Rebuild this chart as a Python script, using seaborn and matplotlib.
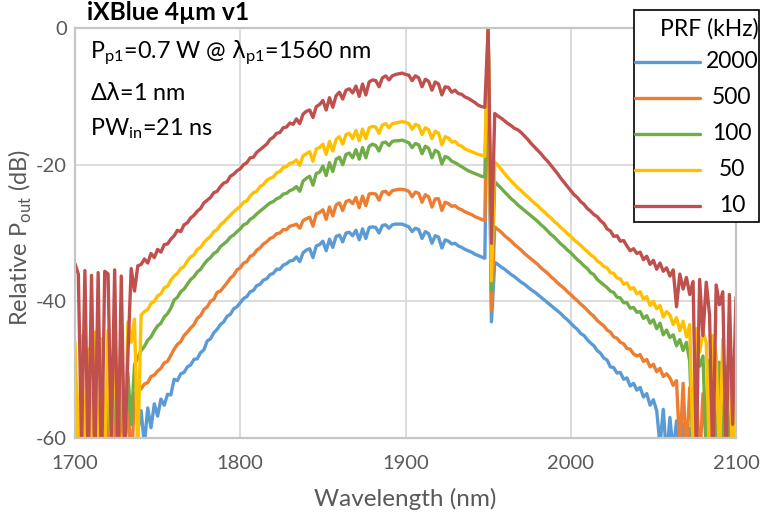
import numpy as np
import pandas as pd
import matplotlib
matplotlib.use("Agg")
import matplotlib.pyplot as plt
from matplotlib.lines import Line2D
from matplotlib.patches import Rectangle
import seaborn as sns

# Wavelength grid of the recorded spectra (nm)
wavelength_nm = np.arange(1700, 2101, 2)

prf_labels = ["2000", "500", "100", "50", "10"]
series_colors = ["#5B9BD5", "#ED7D31", "#70AD47", "#FFC000", "#C0504D"]

# Relative output power (dB) for each pulse repetition frequency
prf_2000 = [
    -66.0, -68.0, -65.0, -67.0, -66.0, -68.0, -65.0, -67.0, -66.0, -68.0,
    -65.0, -67.0, -66.0, -64.0, -66.0, -63.0, -65.0, -61.0, -64.0, -59.0,
    -56.0, -61.0, -55.6, -58.5, -55.0, -56.8, -54.3, -55.2, -53.6, -53.7,
    -51.4, -51.6, -50.6, -50.4, -49.6, -49.3, -48.5, -48.4, -47.5, -47.1,
    -45.8, -45.5, -44.6, -44.1, -43.4, -43.0, -42.2, -41.9, -41.1, -40.8,
    -40.2, -39.6, -39.3, -38.6, -38.4, -37.7, -37.5, -36.9, -36.7, -36.1,
    -35.9, -35.3, -35.3, -34.7, -34.5, -34.1, -34.0, -33.5, -34.2, -32.9,
    -32.5, -32.3, -33.6, -31.9, -31.7, -31.2, -32.6, -30.9, -32.1, -30.5,
    -30.3, -31.3, -30.0, -29.9, -30.4, -29.6, -31.0, -29.4, -30.8, -29.2,
    -29.1, -29.2, -30.0, -28.9, -28.8, -29.3, -28.8, -28.7, -28.7, -28.7,
    -28.9, -29.1, -29.8, -29.3, -29.5, -30.8, -29.8, -30.1, -31.5, -30.4,
    -30.6, -32.2, -31.0, -31.2, -31.6, -31.5, -31.9, -32.1, -32.4, -32.6,
    -32.8, -33.1, -33.3, -33.5, -33.7, 0.0, -43.0, -34.3, -34.6, -35.0,
    -35.3, -35.7, -36.1, -36.4, -36.8, -37.2, -37.5, -37.9, -38.3, -38.6,
    -39.0, -39.4, -39.8, -40.2, -40.6, -41.0, -41.4, -41.8, -42.3, -42.7,
    -43.2, -43.7, -44.1, -44.7, -45.0, -45.6, -46.1, -46.5, -47.2, -47.6,
    -48.3, -48.6, -49.6, -49.7, -50.5, -50.4, -51.4, -51.2, -52.4, -52.0,
    -53.0, -52.6, -54.0, -53.5, -55.2, -54.4, -56.0, -61.0, -55.8, -63.0,
    -57.0, -62.0, -57.5, -66.0, -58.0, -64.0, -58.6, -67.0, -60.5, -66.0,
    -64.0, -68.0, -65.0, -67.0, -66.0, -68.0, -65.0, -67.0, -66.0, -68.0,
    -66.0,
]

prf_500 = [
    -57.0, -65.0, -56.0, -66.0, -57.5, -64.0, -56.5, -65.0, -57.0, -66.0,
    -56.0, -64.0, -55.0, -66.0, -54.5, -62.0, -53.8, -65.0, -53.5, -53.2,
    -52.8, -52.1, -51.9, -51.0, -50.8, -50.2, -49.8, -49.0, -48.8, -47.9,
    -47.0, -46.3, -45.9, -45.0, -44.5, -43.9, -43.4, -42.5, -42.1, -41.2,
    -40.8, -40.0, -39.7, -38.7, -38.5, -37.9, -37.3, -36.6, -36.2, -35.4,
    -35.1, -34.4, -34.2, -33.4, -33.2, -32.5, -32.2, -31.6, -31.3, -30.8,
    -30.6, -30.1, -30.0, -29.5, -29.5, -29.0, -28.9, -28.7, -29.3, -28.2,
    -27.9, -27.7, -29.0, -27.2, -27.0, -26.6, -28.0, -26.2, -27.5, -25.9,
    -25.6, -26.7, -25.4, -25.2, -25.7, -24.8, -26.3, -24.6, -26.0, -24.3,
    -24.2, -24.3, -25.2, -24.0, -23.9, -24.4, -23.8, -23.7, -23.6, -23.6,
    -23.7, -23.9, -24.7, -24.0, -24.2, -25.5, -24.4, -24.7, -26.2, -25.0,
    -25.0, -26.7, -25.5, -25.7, -26.1, -26.0, -26.4, -26.6, -26.9, -27.1,
    -27.3, -27.6, -27.8, -28.0, -28.2, 0.0, -41.3, -29.1, -29.5, -29.9,
    -30.4, -30.8, -31.2, -31.7, -32.1, -32.5, -33.0, -33.4, -33.8, -34.2,
    -34.6, -35.1, -35.5, -35.9, -36.4, -36.8, -37.3, -37.7, -38.1, -38.6,
    -39.0, -39.5, -39.9, -40.4, -40.8, -41.3, -41.8, -42.2, -42.8, -43.2,
    -43.6, -44.2, -44.5, -45.2, -45.4, -46.0, -46.2, -46.9, -47.0, -47.7,
    -48.0, -47.8, -48.8, -48.5, -49.6, -49.2, -50.3, -49.8, -51.0, -50.6,
    -51.2, -52.3, -51.6, -62.0, -52.0, -63.0, -52.6, -54.5, -53.0, -64.0,
    -53.5, -61.0, -54.0, -56.0, -65.0, -54.2, -62.0, -55.0, -66.0, -54.8,
    -56.0,
]

prf_100 = [
    -53.0, -64.0, -52.0, -66.0, -53.5, -62.0, -52.5, -65.0, -51.8, -63.0,
    -52.0, -62.0, -51.5, -60.0, -50.8, -64.0, -50.5, -58.0, -49.3, -48.2,
    -47.2, -46.6, -45.7, -45.2, -44.3, -43.6, -43.2, -42.3, -41.8, -41.0,
    -39.8, -39.4, -38.6, -38.2, -37.5, -36.8, -36.4, -35.7, -35.3, -34.6,
    -34.0, -33.6, -33.0, -32.7, -32.0, -31.6, -31.2, -30.6, -30.3, -29.8,
    -29.4, -28.8, -28.6, -28.0, -27.7, -27.2, -26.8, -26.4, -26.0, -25.6,
    -25.4, -25.0, -24.8, -24.3, -24.2, -23.8, -23.6, -23.2, -23.9, -22.4,
    -22.0, -21.7, -23.0, -21.3, -21.1, -20.2, -21.6, -19.7, -21.0, -19.2,
    -18.9, -20.0, -18.5, -18.3, -19.0, -17.8, -19.2, -17.5, -19.0, -17.3,
    -17.0, -17.2, -18.0, -16.8, -16.7, -17.2, -16.6, -16.5, -16.5, -16.4,
    -16.6, -16.8, -17.5, -16.9, -17.1, -18.4, -17.3, -17.6, -19.0, -17.9,
    -18.2, -19.9, -18.8, -19.0, -19.5, -19.7, -20.0, -20.3, -20.6, -20.9,
    -21.1, -21.3, -21.5, -21.7, -21.8, 0.0, -38.4, -22.5, -23.0, -23.5,
    -24.0, -24.5, -25.0, -25.4, -25.9, -26.3, -26.7, -27.1, -27.5, -27.9,
    -28.3, -28.8, -29.2, -29.7, -30.2, -30.6, -31.1, -31.6, -32.0, -32.5,
    -32.9, -33.4, -33.9, -34.3, -34.8, -35.2, -35.8, -36.1, -36.8, -37.2,
    -37.6, -38.0, -38.5, -38.7, -39.4, -39.5, -40.2, -40.2, -41.0, -40.9,
    -41.6, -41.5, -42.5, -42.1, -43.2, -42.7, -44.0, -43.2, -44.9, -44.2,
    -45.3, -44.9, -46.5, -45.6, -47.2, -46.0, -48.8, -63.0, -47.4, -49.5,
    -48.0, -62.0, -48.6, -50.5, -64.0, -48.9, -61.0, -49.5, -65.0, -50.0,
    -52.0,
]

prf_50 = [
    -46.0, -63.0, -45.0, -64.0, -47.0, -62.0, -44.5, -66.0, -45.5, -63.0,
    -44.2, -64.0, -43.8, -61.0, -43.4, -65.0, -43.0, -46.0, -42.6, -62.0,
    -42.0, -41.5, -41.2, -40.3, -40.0, -39.2, -38.9, -38.0, -37.8, -36.9,
    -36.3, -35.9, -35.2, -34.9, -34.1, -33.5, -33.2, -32.4, -32.1, -31.4,
    -30.9, -30.5, -29.8, -29.5, -28.8, -28.4, -27.9, -27.4, -26.9, -26.5,
    -26.1, -25.5, -25.3, -24.6, -24.1, -23.9, -23.2, -22.9, -22.3, -22.0,
    -21.8, -21.2, -21.0, -20.4, -20.3, -19.8, -19.7, -19.3, -20.1, -18.7,
    -18.4, -18.1, -19.5, -17.7, -17.5, -17.0, -18.5, -16.6, -18.0, -16.3,
    -15.9, -17.0, -15.6, -15.4, -16.2, -15.0, -16.5, -14.8, -16.2, -14.6,
    -14.4, -14.5, -15.4, -14.2, -14.0, -14.6, -14.0, -13.9, -13.8, -13.7,
    -13.8, -14.0, -14.8, -14.1, -14.3, -15.6, -14.6, -14.9, -16.2, -15.1,
    -15.4, -17.1, -15.9, -16.1, -16.7, -16.6, -17.1, -17.3, -17.7, -17.9,
    -18.1, -18.3, -18.5, -18.6, -18.8, 0.0, -37.0, -19.6, -20.1, -20.7,
    -21.3, -21.9, -22.4, -22.9, -23.4, -23.8, -24.3, -24.7, -25.2, -25.6,
    -26.0, -26.5, -26.9, -27.4, -27.8, -28.3, -28.7, -29.2, -29.6, -30.1,
    -30.5, -31.0, -31.4, -31.8, -32.3, -32.7, -33.2, -33.5, -34.1, -34.4,
    -34.9, -35.1, -35.8, -35.9, -36.6, -36.7, -37.5, -37.3, -38.2, -38.0,
    -38.9, -38.6, -39.7, -39.3, -40.6, -40.0, -41.1, -40.6, -42.3, -41.5,
    -42.0, -43.4, -42.4, -44.3, -42.9, -45.2, -43.4, -62.0, -44.0, -47.5,
    -44.5, -46.0, -64.0, -45.0, -48.0, -63.0, -45.5, -58.0, -46.0, -65.0,
    -45.0,
]

prf_10 = [
    -34.5, -36.0, -61.0, -35.5, -65.0, -36.2, -64.0, -35.8, -66.0, -35.6,
    -36.0, -61.0, -35.4, -65.0, -36.3, -63.0, -48.0, -35.2, -38.5, -34.8,
    -34.6, -33.8, -34.4, -33.0, -33.6, -32.4, -32.8, -31.7, -31.6, -30.9,
    -30.4, -29.6, -29.8, -28.8, -28.5, -27.8, -27.4, -26.8, -26.4, -25.6,
    -25.2, -24.8, -24.1, -23.9, -23.2, -22.7, -22.5, -21.7, -21.4, -20.9,
    -20.6, -20.0, -19.7, -19.0, -18.9, -18.2, -17.8, -17.4, -17.0, -16.3,
    -16.0, -15.4, -15.3, -14.6, -14.5, -13.9, -14.1, -13.3, -14.0, -12.6,
    -12.2, -12.0, -13.1, -11.5, -11.2, -10.6, -12.0, -10.2, -11.6, -9.9,
    -9.4, -10.4, -9.1, -8.9, -9.5, -8.5, -10.0, -8.2, -9.8, -7.9,
    -7.6, -7.7, -8.6, -7.3, -7.0, -7.6, -7.0, -6.8, -6.7, -6.6,
    -6.8, -6.9, -7.7, -7.0, -7.3, -8.6, -7.5, -7.8, -9.1, -7.9,
    -8.2, -9.8, -8.6, -8.7, -9.4, -9.1, -9.6, -9.7, -10.1, -10.3,
    -10.6, -10.9, -11.3, -11.5, -11.6, 0.0, -31.5, -12.5, -12.9, -13.2,
    -13.6, -14.0, -14.3, -14.7, -14.9, -15.3, -15.8, -16.3, -16.9, -17.4,
    -17.9, -18.4, -19.0, -19.5, -20.1, -20.7, -21.3, -22.0, -22.6, -23.2,
    -23.8, -24.4, -24.8, -25.4, -25.8, -26.4, -26.8, -27.3, -27.6, -28.2,
    -28.6, -29.4, -29.7, -30.5, -30.4, -31.2, -31.1, -31.9, -32.6, -32.3,
    -33.0, -32.8, -33.9, -33.4, -34.6, -34.0, -35.3, -34.4, -35.6, -35.1,
    -36.3, -35.4, -40.8, -36.0, -38.2, -36.5, -39.0, -37.1, -62.0, -36.8,
    -45.0, -37.2, -42.0, -64.0, -37.6, -40.5, -38.6, -63.0, -39.0, -58.0,
    -39.4,
]

x_ticks = [1700, 1800, 1900, 2000, 2100]
y_ticks = [0, -20, -40, -60]

series = dict(zip(prf_labels, [prf_2000, prf_500, prf_100, prf_50, prf_10]))
df = pd.concat(
    [pd.DataFrame({"Wavelength": wavelength_nm, "dB": vals, "PRF": name})
     for name, vals in series.items()],
    ignore_index=True,
)

sns.set_theme(style="white")
plt.rcParams["font.family"] = ["Lato", "DejaVu Sans"]
plt.rcParams["axes.unicode_minus"] = False
plt.rcParams["mathtext.fontset"] = "custom"
plt.rcParams["mathtext.rm"] = "Lato"
plt.rcParams["mathtext.it"] = "DejaVu Sans"
plt.rcParams["mathtext.bf"] = "Lato:bold"
plt.rcParams["mathtext.fallback"] = "stixsans"

W, H = 761, 520
LINE_W = 2.4
fig = plt.figure(figsize=(W / 100, H / 100), dpi=100)
ax = fig.add_axes([75 / W, 1 - 438 / H, 661 / W, 410 / H])

sns.lineplot(
    data=df, x="Wavelength", y="dB", hue="PRF", hue_order=prf_labels,
    palette=series_colors, estimator=None, sort=False, linewidth=LINE_W,
    legend=False, ax=ax,
)

ax.set_xlim(1700, 2100)
ax.set_ylim(-60, 0)
ax.set_xticks(x_ticks)
ax.set_yticks(y_ticks)
ax.grid(True, color="#D9D9D9", linewidth=1.3)
ax.set_axisbelow(True)
for sp in ax.spines.values():
    sp.set_color("#C6C6C6")
    sp.set_linewidth(1.6)

ax.tick_params(axis="both", direction="in", length=6, width=1.3,
               color="#BFBFBF", labelsize=14.5, labelcolor="#595959")
ax.tick_params(axis="x", pad=12)
ax.tick_params(axis="y", pad=6)

ax.set_xlabel("Wavelength (nm)", fontsize=17.5, color="#595959", labelpad=11.5)
ax.set_ylabel("Relative P$_{\\mathregular{out}}$ (dB)", fontsize=17,
              color="#595959")
ax.yaxis.set_label_coords(-0.062, 0.49)


def fx(px):
    return px / W


def fy(py):
    return 1 - py / H


fig.text(fx(87), fy(12), "iXBlue 4µm v1", fontsize=17.7, fontweight="bold",
         ha="left", va="center", color="black")

fig.text(fx(90), fy(59), "P$_{\\mathregular{p1}}$=0.7 W @ $\\lambda_{\\mathregular{p1}}$=1560 nm",
         fontsize=16.8, ha="left", va="baseline", color="black")
fig.text(fx(90), fy(100), "$\\Delta\\lambda$=1 nm",
         fontsize=16.8, ha="left", va="baseline", color="black")
fig.text(fx(90), fy(135), "PW$_{\\mathregular{in}}$=21 ns",
         fontsize=16.8, ha="left", va="baseline", color="black")

# Legend panel
box_l, box_t, box_r, box_b = 634, 10, 759, 222
fig.add_artist(Rectangle((fx(box_l), fy(box_b)), (box_r - box_l) / W,
                         (box_b - box_t) / H, transform=fig.transFigure,
                         facecolor="white", edgecolor="black", linewidth=1.2,
                         zorder=5))
fig.text(fx(709), fy(29), "PRF (kHz)", fontsize=16.5, ha="center",
         va="center", color="black", zorder=6)
row_y = [62, 98, 134, 170, 206]
for label, color, yy in zip(prf_labels, series_colors, row_y):
    fig.add_artist(Line2D([fx(635), fx(700)], [fy(yy), fy(yy)],
                          transform=fig.transFigure, color=color,
                          linewidth=LINE_W, zorder=6))
    fig.text(fx(732), fy(yy), label, fontsize=16.5, ha="center",
             va="center", color="black", zorder=6)

fig.savefig("out.png", dpi=100)
